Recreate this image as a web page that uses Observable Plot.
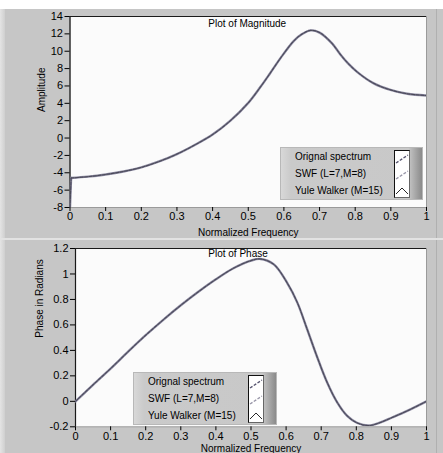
<!DOCTYPE html>
<html>
<head>
<meta charset="utf-8">
<script src="https://cdn.jsdelivr.net/npm/d3@7"></script>
<script src="https://cdn.jsdelivr.net/npm/@observablehq/plot@0.6"></script>
<style>
  html, body { margin: 0; padding: 0; background: #ffffff; }
  #wrap { position: relative; width: 443px; height: 453px; overflow: hidden; font-family: "Liberation Sans", Arial, sans-serif; }
  .panel { position: absolute; left: 0; width: 443px; background: #c6c6c6; }
  .panel svg { display: block; background: transparent; }
  .edgeL { position: absolute; left: 0; top: 0; bottom: 0; width: 5px; background: linear-gradient(to right, #e4e4e4, #cfcfcf); }
  .edgeR { position: absolute; right: 6px; top: 0; bottom: 0; width: 1px; background: #b0b0b0; }
  .legend { position: absolute; height: 53px; font-size: 10px; color: #000;
    background: linear-gradient(to right, #d8d8d8 0px, #cacaca 10px, #c8c8c8 100%); border: 1px solid #b8b8b8; box-sizing: border-box; }
  .legend .grad { position: absolute; right: 0; top: 0; bottom: 0; width: 13px; background: linear-gradient(to right, #c4c4c4, #8a8a8a); }
  .legend .row { position: absolute; white-space: nowrap; line-height: 12px; }
  .legend .sw { position: absolute; top: 2px; width: 16px; height: 48px; background: #fff; border-left: 1px solid #111; border-top: 1px solid #111; border-right: 1px solid #666; border-bottom: 1px solid #666; box-sizing: border-box; }
</style>
</head>
<body>
<div id="wrap">
  <div class="panel" id="p1" style="top:9px;height:229px;"><div class="edgeL"></div><div class="edgeR"></div></div>
  <div style="position:absolute;left:0;top:238px;width:443px;height:2px;background:#e2e2e2;"></div>
  <div class="panel" id="p2" style="top:240px;height:213px;"><div class="edgeL"></div><div class="edgeR"></div></div>
</div>
<script>
// ---- data ----
const seriesNames = ["Orignal spectrum", "SWF (L=7,M=8)", "Yule Walker (M=15)"];

const freqMag = [0, 0.003, 0.05, 0.1, 0.15, 0.2, 0.25, 0.3, 0.35, 0.4, 0.45, 0.5, 0.534, 0.56, 0.59, 0.628, 0.65, 0.675, 0.7, 0.735, 0.759, 0.78, 0.806, 0.852, 0.899, 0.946, 1.0];
const magOriginal = [-8, -4.6, -4.45, -4.2, -3.85, -3.38, -2.7, -1.85, -0.8, 0.4, 2.0, 4.05, 5.87, 7.38, 9.18, 11.2, 11.95, 12.4, 12.15, 10.9, 9.6, 8.6, 7.6, 6.3, 5.55, 5.1, 4.9];
const magSWF = magOriginal;        // visually indistinguishable in the reference
const magYuleWalker = magOriginal; // visually indistinguishable in the reference

const freqPh = [0, 0.05, 0.1, 0.15, 0.2, 0.25, 0.3, 0.35, 0.4, 0.45, 0.5, 0.527, 0.565, 0.603, 0.632, 0.66, 0.689, 0.717, 0.746, 0.774, 0.803, 0.836, 0.869, 0.902, 0.945, 1.0];
const phOriginal = [0, 0.13, 0.257, 0.39, 0.519, 0.64, 0.754, 0.86, 0.958, 1.045, 1.105, 1.118, 1.075, 0.93, 0.775, 0.566, 0.344, 0.148, -0.01, -0.114, -0.17, -0.19, -0.166, -0.127, -0.075, 0.0];
const phSWF = phOriginal;
const phYuleWalker = phOriginal;

const xTicks = [0, 0.1, 0.2, 0.3, 0.4, 0.5, 0.6, 0.7, 0.8, 0.9, 1];
const magTicks = [-8, -6, -4, -2, 0, 2, 4, 6, 8, 10, 12, 14];
const phTicks = [-0.2, 0, 0.2, 0.4, 0.6, 0.8, 1, 1.2];

const fmt = d => String(Math.round(d * 10) / 10);

// A leading point at the bottom of the frame is the drop at f = 0 (drawn straight);
// the rest of each series is drawn as a smooth curve.
function rows(fx, ys, name) { return fx.map((f, i) => ({f, v: ys[i], s: name})); }

function seriesMarks(d, stroke, width, dash, hasDrop) {
  const opts = {x: "f", y: "v", stroke, strokeWidth: width, strokeDasharray: dash, clip: true};
  const out = [];
  if (hasDrop) {
    out.push(Plot.line(d.slice(0, 2), {...opts, curve: "linear"}));
    out.push(Plot.line(d.slice(1), {...opts, curve: "catmull-rom"}));
  } else {
    out.push(Plot.line(d, {...opts, curve: "catmull-rom"}));
  }
  return out;
}

function panel(opts) {
  const {fx, ys, yDomain, yTicks, title, titleDx, titleDy, ylabel, width, height, mt, mb, ml, mr, xlabDy, ylabDx, hasDrop} = opts;
  const dOrig = rows(fx, ys[0], seriesNames[0]);
  const dSWF = rows(fx, ys[1], seriesNames[1]);
  const dYW = rows(fx, ys[2], seriesNames[2]);
  return Plot.plot({
    width, height,
    marginTop: mt, marginBottom: mb, marginLeft: ml, marginRight: mr,
    style: {background: "transparent", fontFamily: "'Liberation Sans', Arial, sans-serif", fontSize: "11px", color: "#000", overflow: "visible"},
    x: {domain: [0, 1], ticks: xTicks, tickFormat: fmt, label: null},
    y: {domain: yDomain, ticks: yTicks, tickFormat: fmt, label: null},
    marks: [
      Plot.frame({fill: "#fbfbfb", stroke: "#9a9a9a"}),
      Plot.ruleY([yDomain[1]], {stroke: "#1a1a1a", strokeWidth: 1.2}),
      Plot.ruleX([0], {stroke: "#1a1a1a", strokeWidth: 1.2}),
      Plot.axisX({ticks: xTicks, tickFormat: fmt, tickSize: 4, tickPadding: 1, stroke: "#000", fontSize: 11}),
      Plot.axisY({ticks: yTicks, tickFormat: fmt, tickSize: 5, tickPadding: 2, stroke: "#000", fontSize: 11}),
      ...seriesMarks(dSWF, "#8e8ca2", 2.4, null, hasDrop),
      ...seriesMarks(dOrig, "#5a5874", 1.1, "3,1.5", hasDrop),
      ...seriesMarks(dYW, "#3a3a3a", 0.5, null, hasDrop),
      Plot.text([title], {frameAnchor: "top", dx: titleDx, dy: titleDy, lineAnchor: "top", fill: "#000", fontSize: 10}),
      Plot.text(["Normalized Frequency"], {frameAnchor: "bottom", dy: xlabDy, lineAnchor: "middle", fill: "#000", fontSize: 10}),
      Plot.text([ylabel], {frameAnchor: "left", dx: ylabDx, rotate: -90, lineAnchor: "middle", fill: "#000", fontSize: 10})
    ]
  });
}

const p1 = panel({
  fx: freqMag, ys: [magOriginal, magSWF, magYuleWalker], yDomain: [-8, 14], yTicks: magTicks,
  title: "Plot of Magnitude", titleDx: -1, titleDy: 3, ylabel: "Amplitude", hasDrop: true,
  width: 443, height: 229, mt: 7, mb: 31, ml: 69.5, mr: 17, xlabDy: 25, ylabDx: -28
});
const p2 = panel({
  fx: freqPh, ys: [phOriginal, phSWF, phYuleWalker], yDomain: [-0.2, 1.2], yTicks: phTicks,
  title: "Plot of Phase", titleDx: -13, titleDy: 1, ylabel: "Phase in Radians", hasDrop: false,
  width: 443, height: 213, mt: 8, mb: 26.7, ml: 75, mr: 17, xlabDy: 21.5, ylabDx: -36
});
document.getElementById("p1").appendChild(p1);
document.getElementById("p2").appendChild(p2);

// ---- legends (decoration, HTML) ----
const swatchSvg = `<svg width="14" height="46" viewBox="0 0 14 46">
  <path d="M1,12 L13,4" stroke="#55536e" stroke-width="1.3" stroke-dasharray="3,1.5" fill="none"/>
  <path d="M1,28 L13,20" stroke="#9896a8" stroke-width="1.3" stroke-dasharray="3,1.5" fill="none"/>
  <path d="M1,43 L7,37 L13,43" stroke="#111" stroke-width="0.9" fill="none"/>
</svg>`;
function legend(parentTop, left, top, width, textLeft, swLeft) {
  const el = document.createElement("div");
  el.className = "legend";
  el.style.left = left + "px";
  el.style.top = (top - parentTop) + "px";
  el.style.width = width + "px";
  const rowsY = [3, 20, 37];
  let html = '<div class="grad"></div>';
  seriesNames.forEach((n, i) => {
    html += `<div class="row" style="left:${textLeft}px;top:${rowsY[i]}px;">${n}</div>`;
  });
  html += `<div class="sw" style="left:${swLeft}px;">${swatchSvg}</div>`;
  el.innerHTML = html;
  return el;
}
document.getElementById("p1").appendChild(legend(9, 280, 147, 143, 14, 113));
document.getElementById("p2").appendChild(legend(240, 133, 372, 144, 14, 114));
</script>
</body>
</html>
